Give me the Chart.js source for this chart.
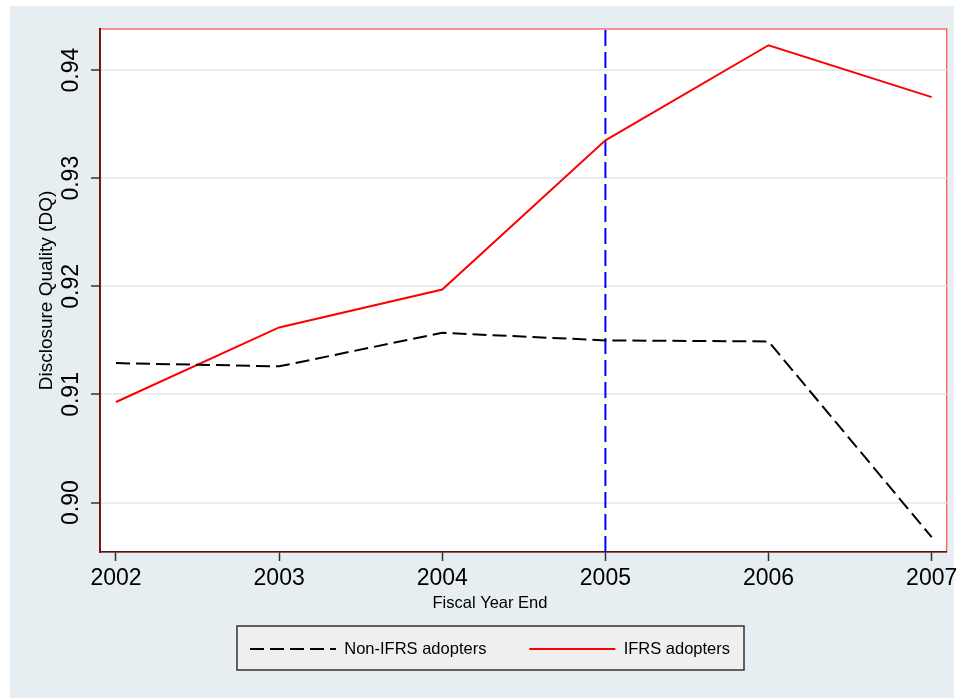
<!DOCTYPE html>
<html>
<head>
<meta charset="utf-8">
<script src="https://cdn.jsdelivr.net/npm/chart.js@4.4.0/dist/chart.umd.min.js"></script>
<style>
  html, body { margin: 0; padding: 0; background: #fff; overflow: hidden; }
  canvas { display: block; }
</style>
</head>
<body>
<canvas id="dqChart" width="957" height="698"></canvas>
<script>
// Données
const years = [2002, 2003, 2004, 2005, 2006, 2007];
const nonIfrs = [0.9129, 0.9126, 0.9157, 0.9150, 0.9149, 0.8968];
const ifrs = [0.9093, 0.9162, 0.9197, 0.9335, 0.9423, 0.9375];
const yTicks = [0.90, 0.91, 0.92, 0.93, 0.94];
const adoptionYear = 2005;

const X_MIN = 2001.902, X_MAX = 2007.092;
const Y_MIN = 0.89543, Y_MAX = 0.94380;

const BG = '#e6eef1';
Chart.defaults.font.family = "'Liberation Sans', Arial, Helvetica, sans-serif";
Chart.defaults.color = '#000';

// Fond, cadre rouge et cadre de légende
const backdrop = {
    id: 'backdrop',
    beforeDraw(chart) {
        const ctx = chart.ctx;
        const a = chart.chartArea;
        ctx.save();
        ctx.fillStyle = '#fff';
        ctx.fillRect(0, 0, chart.width, chart.height);
        ctx.fillStyle = BG;
        ctx.fillRect(10, 6, 944, 692);
        ctx.fillStyle = '#fff';
        ctx.fillRect(a.left, a.top, a.right - a.left, a.bottom - a.top);
        ctx.strokeStyle = '#ff4a4a';
        ctx.lineWidth = 1.2;
        ctx.strokeRect(a.left, a.top, a.right - a.left, a.bottom - a.top);

        const hb = chart.legend && chart.legend.legendHitBoxes;
        if (hb && hb.length) {
            const left = Math.min(...hb.map(h => h.left)) - 13;
            const right = Math.max(...hb.map(h => h.left + h.width)) + 14;
            const top = hb[0].top - 14.75;
            const bottom = hb[0].top + 29.25;
            ctx.fillStyle = '#efefef';
            ctx.fillRect(left, top, right - left, bottom - top);
            ctx.strokeStyle = '#333';
            ctx.lineWidth = 1.5;
            ctx.strokeRect(left, top, right - left, bottom - top);
        }
        ctx.restore();
    }
};

const ctx = document.getElementById('dqChart').getContext('2d');
new Chart(ctx, {
    type: 'line',
    data: {
        datasets: [{
            label: 'Non-IFRS adopters',
            data: years.map((x, i) => ({ x, y: nonIfrs[i] })),
            borderColor: '#000',
            borderWidth: 2,
            borderDash: [14, 6],
            pointRadius: 0,
            tension: 0,
        }, {
            label: 'IFRS adopters',
            data: years.map((x, i) => ({ x, y: ifrs[i] })),
            borderColor: '#ff0000',
            borderWidth: 2,
            pointRadius: 0,
            tension: 0,
        }, {
            label: 'IFRS 2005',
            data: [{ x: adoptionYear, y: Y_MIN }, { x: adoptionYear, y: Y_MAX }],
            borderColor: '#0000ff',
            borderWidth: 2,
            borderDash: [16, 6],
            pointRadius: 0,
        }]
    },
    options: {
        responsive: false,
        animation: false,
        layout: { padding: { left: 33.3, right: 10.3, top: 29, bottom: 30.75 } },
        plugins: {
            tooltip: { enabled: false },
            legend: {
                position: 'bottom',
                align: 'center',
                title: {
                    display: true,
                    text: 'Fiscal Year End',
                    color: '#000',
                    font: { size: 16.5 },
                    padding: { top: 1.75, bottom: -16.8 },
                },
                labels: {
                    // le style "point" ne reprend pas les tirets : on les remet
                    generateLabels: (chart) => Chart.defaults.plugins.legend.labels
                        .generateLabels(chart)
                        .map(item => ({ ...item, lineDash: chart.data.datasets[item.datasetIndex].borderDash || [] })),
                    filter: (item) => item.datasetIndex < 2,
                    usePointStyle: true,
                    pointStyle: 'line',
                    pointStyleWidth: 86,
                    padding: 43,
                    color: '#000',
                    font: { size: 16.5 },
                }
            }
        },
        scales: {
            x: {
                type: 'linear',
                min: X_MIN,
                max: X_MAX,
                afterBuildTicks: (s) => { s.ticks = years.map(v => ({ value: v })); },
                afterFit: (s) => { s.height = 41; s.paddingLeft = 0; s.paddingRight = 0; },
                grid: {
                    drawOnChartArea: false,
                    drawTicks: true,
                    tickLength: 9,
                    tickColor: '#333',
                    tickWidth: 1.5,
                },
                border: { display: true, color: '#4a1a1a', width: 1.5 },
                ticks: {
                    padding: 4,
                    color: '#000',
                    font: { size: 23 },
                    maxRotation: 0,
                    callback: (v) => String(v),
                }
            },
            y: {
                type: 'linear',
                min: Y_MIN,
                max: Y_MAX,
                afterBuildTicks: (s) => { s.ticks = yTicks.map(v => ({ value: v })); },
                afterFit: (s) => { s.width = 66.7; s.paddingTop = 0; s.paddingBottom = 0; },
                grid: {
                    color: BG,
                    lineWidth: 2,
                    tickLength: 9,
                    tickColor: '#333',
                    tickWidth: 1.5,
                },
                border: { display: true, color: '#7a1515', width: 2 },
                ticks: {
                    minRotation: 90,
                    maxRotation: 90,
                    crossAlign: 'center',
                    padding: -3.5,
                    color: '#000',
                    font: { size: 23 },
                    callback: (v) => v.toFixed(2),
                },
                title: {
                    display: true,
                    text: 'Disclosure Quality (DQ)',
                    color: '#000',
                    font: { size: 19 },
                    padding: { top: 2.3, bottom: 0 },
                }
            }
        }
    },
    plugins: [backdrop]
});
</script>
</body>
</html>
